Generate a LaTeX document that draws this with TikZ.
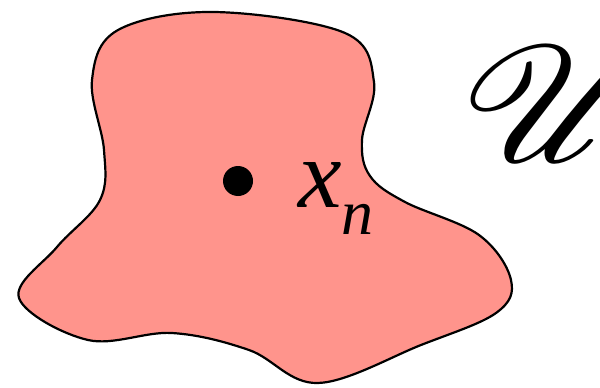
\documentclass[tikz,border=0pt]{standalone}
\usepackage{fontspec}
\setmainfont{Liberation Serif}
\usepackage{mathrsfs}
\definecolor{blobfill}{RGB}{255,148,140}
\begin{document}
\begin{tikzpicture}[x=1pt,y=-1pt,
  blob/.style={fill=blobfill,draw=black,line width=2.2pt},
  bigdot/.style={circle,fill=black,inner sep=0pt,minimum size=30pt}]
\useasboundingbox (0,0) rectangle (600,388);
\clip (0,0) rectangle (600,388);
\draw[blob] plot[smooth cycle,tension=0.6] coordinates {
 (92,80) (118,30) (214,12) (345,33) (374,82) (362,140) (370,176)
 (405,202) (479,235) (511,280) (496,313) (421,345) (318,383)
 (249,350) (172,333) (88,340) (19,298) (57,247) (100,200) (104,150)};
\node[bigdot] (xdot) at (238,181) {};
\node[inner sep=0pt,anchor=base west] (xn) at (298,207)
  {\fontsize{98}{98}\selectfont\textit{x}\raisebox{-0.28em}{\fontsize{64}{64}\selectfont\textit{n}}};
\node[xscale=17.8,yscale=16.4,inner sep=0pt,anchor=west] (U) at (458,104) {$\mathscr{U}$};
\end{tikzpicture}
\end{document}
